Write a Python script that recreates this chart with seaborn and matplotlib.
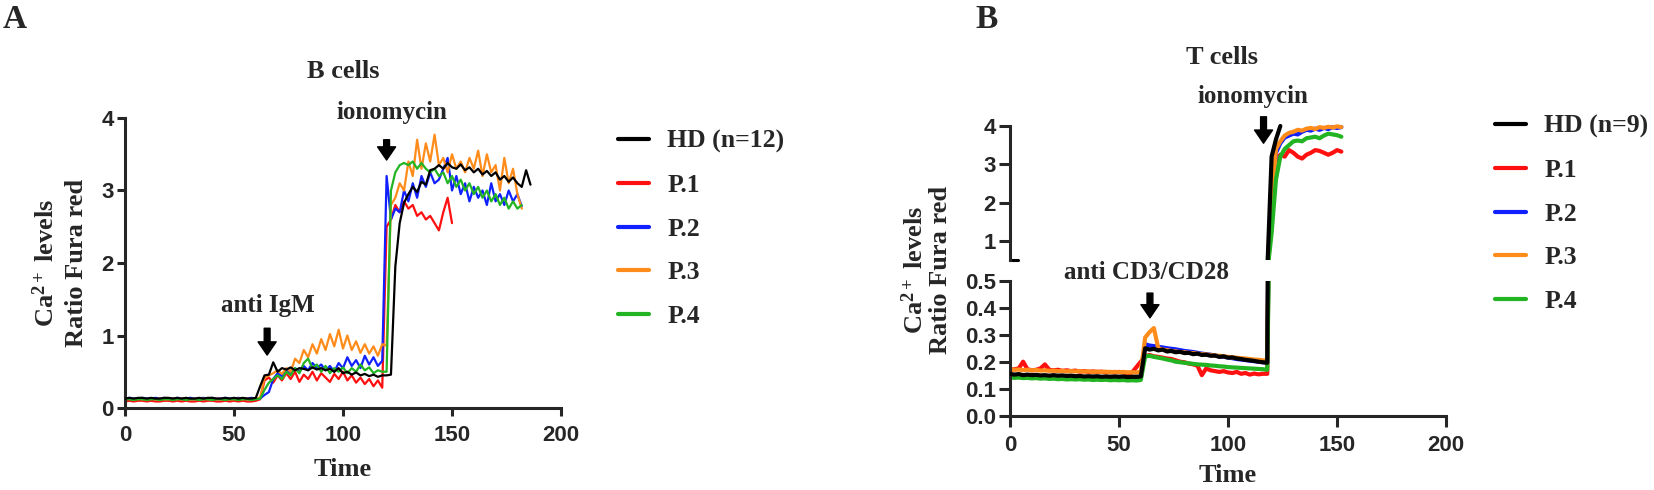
import numpy as np
import pandas as pd
import seaborn as sns
import matplotlib.pyplot as plt
from matplotlib.lines import Line2D
from matplotlib.transforms import Bbox, TransformedBbox

sns.set_style("ticks")
plt.rcParams["font.family"] = ["Liberation Serif", "DejaVu Serif"]
plt.rcParams["font.weight"] = "bold"
plt.rcParams["axes.labelweight"] = "bold"
plt.rcParams["mathtext.fontset"] = "custom"
plt.rcParams["mathtext.rm"] = "Liberation Serif:bold"
plt.rcParams["mathtext.it"] = "Liberation Serif:bold"
plt.rcParams["mathtext.bf"] = "Liberation Serif:bold"

STEP = 2  # seconds between readings

names = ["HD", "P.1", "P.2", "P.3", "P.4"]
colors = ["black", "#ff1010", "#1020ff", "#ff8c1a", "#22b422"]

# ---- B cells (panel A) ----
b_hd = [0.13, 0.14, 0.13, 0.14, 0.14, 0.13, 0.14, 0.13, 0.13, 0.14, 0.14, 0.13, 0.14, 0.13, 0.14, 0.13,
        0.13, 0.14, 0.13, 0.14, 0.14, 0.13, 0.13, 0.14, 0.13, 0.14, 0.13, 0.14, 0.13, 0.13, 0.14,
        0.30, 0.45, 0.46, 0.63, 0.50, 0.55, 0.53, 0.56, 0.52, 0.55, 0.54, 0.52, 0.56, 0.53, 0.55, 0.52,
        0.54, 0.50, 0.55, 0.48, 0.50, 0.46, 0.49, 0.45, 0.47, 0.44, 0.46, 0.43, 0.45, 0.45, 0.46,
        1.95, 2.55, 2.83, 2.95, 3.05, 2.98, 3.12, 3.08, 3.28, 3.30, 3.35, 3.30, 3.38, 3.32, 3.30, 3.36,
        3.28, 3.32, 3.25, 3.30, 3.22, 3.27, 3.20, 3.25, 3.15, 3.20, 3.12, 3.18, 3.10, 3.05, 3.28, 3.08]
b_p1 = [0.09, 0.10, 0.09, 0.10, 0.10, 0.09, 0.10, 0.09, 0.09, 0.10, 0.10, 0.09, 0.10, 0.09, 0.10, 0.09,
        0.09, 0.10, 0.09, 0.10, 0.10, 0.09, 0.09, 0.10, 0.09, 0.10, 0.09, 0.10, 0.09, 0.09, 0.10,
        0.12, 0.38, 0.42, 0.35, 0.45, 0.38, 0.48, 0.40, 0.50, 0.36, 0.46, 0.40, 0.50, 0.38, 0.48, 0.42,
        0.36, 0.47, 0.40, 0.50, 0.38, 0.45, 0.35, 0.42, 0.33, 0.40, 0.30, 0.38, 0.28,
        2.50, 2.60, 2.80, 2.70, 2.85, 2.75, 2.80, 2.65, 2.70, 2.60, 2.65, 2.55, 2.45, 2.70, 2.90, 2.55]
b_p2 = [0.13, 0.14, 0.13, 0.13, 0.14, 0.13, 0.13, 0.14, 0.13, 0.14, 0.13, 0.13, 0.14, 0.13, 0.13, 0.14,
        0.13, 0.13, 0.14, 0.13, 0.14, 0.13, 0.13, 0.14, 0.13, 0.13, 0.14, 0.13, 0.13, 0.14, 0.13,
        0.13, 0.18, 0.22, 0.40, 0.48, 0.44, 0.52, 0.47, 0.55, 0.50, 0.58, 0.52, 0.62, 0.55, 0.60, 0.52,
        0.58, 0.50, 0.62, 0.55, 0.70, 0.58, 0.66, 0.55, 0.72, 0.60, 0.70, 0.58, 0.65,
        3.20, 2.60, 2.75, 2.70, 3.00, 2.85, 3.10, 2.90, 3.20, 3.05, 3.25, 3.10, 3.15, 3.30, 3.45, 3.00,
        3.20, 2.95, 3.10, 2.85, 3.05, 2.90, 3.00, 2.80, 3.10, 2.85, 2.95, 2.80, 3.00, 2.85, 2.95, 2.78]
b_p3 = [0.12, 0.13, 0.12, 0.13, 0.12, 0.12, 0.13, 0.12, 0.13, 0.12, 0.12, 0.13, 0.12, 0.13, 0.12, 0.12,
        0.13, 0.12, 0.13, 0.12, 0.12, 0.13, 0.12, 0.13, 0.12, 0.12, 0.13, 0.12, 0.13, 0.12, 0.13,
        0.14, 0.42, 0.45, 0.48, 0.52, 0.47, 0.55, 0.50, 0.68, 0.62, 0.80, 0.70, 0.88, 0.75, 0.95, 0.80,
        1.02, 0.85, 1.08, 0.82, 1.00, 0.80, 0.92, 0.76, 0.88, 0.75, 0.85, 0.72, 0.88, 0.86,
        2.80, 2.90, 3.10, 3.00, 3.40, 3.20, 3.70, 3.30, 3.65, 3.40, 3.77, 3.35, 3.45, 3.25, 3.50, 3.30,
        3.40, 3.25, 3.45, 3.30, 3.55, 3.20, 3.50, 3.25, 3.35, 3.00, 3.45, 3.10, 3.30, 2.95, 2.75]
b_p4 = [0.12, 0.12, 0.11, 0.12, 0.12, 0.11, 0.12, 0.12, 0.11, 0.12, 0.12, 0.11, 0.12, 0.12, 0.11, 0.12,
        0.12, 0.11, 0.12, 0.12, 0.11, 0.12, 0.12, 0.11, 0.12, 0.12, 0.11, 0.12, 0.12, 0.11, 0.12,
        0.13, 0.25, 0.35, 0.40, 0.45, 0.40, 0.50, 0.45, 0.55, 0.48, 0.62, 0.68, 0.55, 0.60, 0.50, 0.58,
        0.48, 0.55, 0.50, 0.56, 0.48, 0.55, 0.50, 0.60, 0.52, 0.56, 0.48, 0.52, 0.50, 0.50,
        3.00, 3.25, 3.35, 3.38, 3.35, 3.40, 3.30, 3.38, 3.30, 3.25, 3.30, 3.20, 3.25, 3.10, 3.20, 3.05,
        3.15, 3.00, 3.10, 2.95, 3.05, 2.90, 3.00, 2.85, 2.95, 2.80, 2.90, 2.75, 2.85, 2.75, 2.80]

# ---- T cells (panel B) ----
t_hd = [0.155, 0.152, 0.154, 0.150, 0.152, 0.150, 0.151, 0.149, 0.150, 0.148, 0.150, 0.148, 0.149, 0.147,
        0.148, 0.146, 0.147, 0.145, 0.146, 0.145, 0.146, 0.144, 0.145, 0.144, 0.145, 0.144, 0.145, 0.143,
        0.144, 0.144, 0.145,
        0.250, 0.245, 0.248, 0.242, 0.245, 0.238, 0.240, 0.235, 0.237, 0.232, 0.233, 0.228, 0.230, 0.225,
        0.226, 0.222, 0.223, 0.218, 0.220, 0.215, 0.216, 0.212, 0.210, 0.207, 0.205, 0.203, 0.200, 0.198,
        0.196,
        3.20, 3.65, 4.00]
t_p1 = [0.170, 0.172, 0.175, 0.200, 0.172, 0.168, 0.170, 0.175, 0.190, 0.170, 0.168, 0.170, 0.166, 0.168,
        0.165, 0.167, 0.163, 0.165, 0.162, 0.164, 0.162, 0.163, 0.160, 0.162, 0.160, 0.162, 0.160, 0.158,
        0.160, 0.180, 0.200,
        0.220, 0.225, 0.220, 0.218, 0.215, 0.212, 0.210, 0.205, 0.200, 0.198, 0.193, 0.190, 0.185, 0.150,
        0.175, 0.168, 0.165, 0.162, 0.165, 0.160, 0.158, 0.162, 0.155, 0.158, 0.152, 0.156, 0.153, 0.155,
        0.155,
        1.50, 3.10, 3.25, 3.20, 3.37, 3.30, 3.20, 3.15, 3.25, 3.30, 3.37, 3.35, 3.30, 3.25, 3.30, 3.37, 3.33]
t_p2 = [0.148, 0.146, 0.147, 0.145, 0.146, 0.144, 0.145, 0.143, 0.144, 0.142, 0.143, 0.141, 0.142, 0.140,
        0.141, 0.140, 0.141, 0.139, 0.140, 0.139, 0.140, 0.138, 0.139, 0.138, 0.139, 0.138, 0.139, 0.137,
        0.138, 0.138, 0.139,
        0.265, 0.260, 0.258, 0.255, 0.253, 0.250, 0.248, 0.246, 0.243, 0.240, 0.238, 0.236, 0.233, 0.230,
        0.228, 0.226, 0.223, 0.220, 0.218, 0.216, 0.213, 0.210, 0.208, 0.206, 0.204, 0.202, 0.200, 0.198,
        0.197,
        1.60, 3.30, 3.55, 3.70, 3.75, 3.80, 3.78, 3.85, 3.90, 3.88, 3.93, 3.90, 3.95, 3.92, 3.97, 3.95, 3.97]
t_p3 = [0.172, 0.170, 0.171, 0.169, 0.170, 0.168, 0.169, 0.167, 0.168, 0.166, 0.167, 0.165, 0.166, 0.164,
        0.165, 0.164, 0.165, 0.163, 0.164, 0.162, 0.163, 0.162, 0.163, 0.161, 0.162, 0.161, 0.162, 0.160,
        0.161, 0.160, 0.162,
        0.290, 0.310, 0.325, 0.250, 0.245, 0.243, 0.240, 0.238, 0.236, 0.235, 0.233, 0.232, 0.230, 0.228,
        0.227, 0.225, 0.223, 0.222, 0.220, 0.218, 0.216, 0.215, 0.213, 0.212, 0.210, 0.208, 0.207, 0.205,
        0.204,
        1.80, 3.40, 3.60, 3.75, 3.82, 3.85, 3.90, 3.88, 3.93, 3.95, 3.92, 3.97, 3.95, 3.98, 3.96, 3.99, 3.97]
t_p4 = [0.142, 0.140, 0.141, 0.139, 0.140, 0.138, 0.139, 0.137, 0.138, 0.136, 0.137, 0.135, 0.136, 0.134,
        0.135, 0.134, 0.135, 0.133, 0.134, 0.132, 0.133, 0.132, 0.133, 0.131, 0.132, 0.131, 0.132, 0.130,
        0.131, 0.130, 0.132,
        0.220, 0.222, 0.218, 0.215, 0.212, 0.208, 0.205, 0.200, 0.198, 0.196, 0.194, 0.192, 0.190, 0.189,
        0.188, 0.186, 0.185, 0.183, 0.182, 0.180, 0.179, 0.178, 0.177, 0.176, 0.175, 0.174, 0.173, 0.172,
        0.170,
        1.20, 2.60, 3.20, 3.40, 3.50, 3.60, 3.62, 3.60, 3.68, 3.70, 3.72, 3.68, 3.75, 3.80, 3.78, 3.76, 3.72]


def long_df(series):
    parts = []
    for name, vals in zip(names, series):
        parts.append(pd.DataFrame({"Time": np.arange(len(vals)) * STEP,
                                   "Ratio": vals, "Series": name}))
    return pd.concat(parts, ignore_index=True)


df_b = long_df([b_hd, b_p1, b_p2, b_p3, b_p4])
df_t = long_df([t_hd, t_p1, t_p2, t_p3, t_p4])

W, H = 1654, 490
fig = plt.figure(figsize=(W / 100, H / 100), dpi=100)


def rect(left, top, right, bottom):
    return [left / W, 1 - bottom / H, (right - left) / W, (bottom - top) / H]


def px(x, y):
    return x / W, 1 - y / H


def draw(ax, df, lw):
    sns.lineplot(data=df, x="Time", y="Ratio", hue="Series", hue_order=names,
                 palette=colors, estimator=None, sort=False, lw=lw,
                 legend=False, ax=ax)
    ax.lines[0].set_zorder(3)  # HD drawn on top
    ax.set_xlabel("")
    ax.set_ylabel("")


def style(ax, tick_len):
    for s in ["top", "right"]:
        ax.spines[s].set_visible(False)
    for s in ["left", "bottom"]:
        ax.spines[s].set_linewidth(2.2)
    ax.tick_params(width=2.2, length=tick_len, labelsize=16, pad=2,
                   labelfontfamily="Liberation Sans")


def arrow(ax, x, y_tail, y_tip):
    ax.annotate("", xy=(x, y_tip), xytext=(x, y_tail), annotation_clip=False,
                arrowprops=dict(arrowstyle="simple,head_length=0.95,head_width=1.3,tail_width=0.42",
                                color="black", shrinkA=0, shrinkB=0))


# ---------- panel A: B cells ----------
axA = fig.add_axes(rect(125, 118, 561, 408))
draw(axA, df_b, 1.6)
axA.set_xlim(0, 200)
axA.set_ylim(0, 4)
axA.set_xticks([0, 50, 100, 150, 200])
axA.set_yticks([0, 1, 2, 3, 4])
style(axA, 6)
axA.tick_params(axis="x", pad=6)
axA.set_xlabel("Time", fontsize=19, labelpad=9)
fig.text(*px(343, 72), "B cells", fontsize=19, ha="center", va="center")
axA.text(65.6, 1.42, "anti IgM", fontsize=18, ha="center", va="center")
arrow(axA, 65.2, 1.10, 0.73)
axA.text(122.5, 4.07, "ionomycin", fontsize=18, ha="center", va="center", clip_on=False)
arrow(axA, 120.0, 3.70, 3.42)
fig.text(*px(60, 263), "Ca$^{2+}$ levels\nRatio Fura red", fontsize=19, rotation=90,
         ha="center", va="center", multialignment="center", linespacing=1.35)
fig.text(*px(3, 19), "A", fontsize=24, ha="left", va="center")

# ---------- panel B: T cells (broken y axis) ----------
axB = fig.add_axes(rect(1010, 281, 1446, 415.5))
axT = fig.add_axes(rect(1010, 126, 1446, 260))
draw(axB, df_t, 3)
draw(axT, df_t, 3)
for ax in (axB, axT):
    ax.set_xlim(0, 200)
axB.set_ylim(0, 0.5)
axB.set_yticks([0.0, 0.1, 0.2, 0.3, 0.4, 0.5])
axB.set_yticklabels([f"{v:.1f}" for v in [0.0, 0.1, 0.2, 0.3, 0.4, 0.5]])
axB.set_xticks([0, 50, 100, 150, 200])
axT.set_ylim(0.5, 4)
axT.set_yticks([1, 2, 3, 4])
style(axB, 8)
style(axT, 8)
axB.tick_params(axis="x", pad=6)
axT.spines["bottom"].set_visible(False)
axT.tick_params(axis="x", bottom=False, labelbottom=False)
# let the top traces reach the 4.0 line without being cut in half
clip = TransformedBbox(Bbox([[0, 0], [1, 1.04]]), axT.transAxes)
for ln in axT.lines:
    ln.set_clip_box(clip)
# small end cap on the broken axis
axT.plot([0, 0.018], [0, 0], color="black", lw=2.2, transform=axT.transAxes, clip_on=False)
axB.set_xlabel("Time", fontsize=19, labelpad=6)
fig.text(*px(1222, 58), "T cells", fontsize=19, ha="center", va="center")
axB.text(62.4, 0.533, "anti CD3/CD28", fontsize=18, ha="center", va="center", clip_on=False)
arrow(axB, 64.2, 0.455, 0.363)
axT.text(111.6, 4.77, "ionomycin", fontsize=18, ha="center", va="center", clip_on=False)
arrow(axT, 116.3, 4.24, 3.55)
fig.text(*px(927, 270), "Ca$^{2+}$ levels\nRatio Fura red", fontsize=19, rotation=90,
         ha="center", va="center", multialignment="center", linespacing=1.05)
fig.text(*px(975, 19), "B", fontsize=24, ha="left", va="center")

# ---------- legends ----------
handles = [Line2D([], [], color=c, lw=3) for c in colors]
leg_kw = dict(loc="upper left", frameon=False, prop={"size": 18.5, "weight": "bold"},
              handlelength=1.2, handletextpad=0.72, labelspacing=0.8,
              borderpad=0, borderaxespad=0)
fig.legend(handles, ["HD (n=12)", "P.1", "P.2", "P.3", "P.4"],
           bbox_to_anchor=px(618, 130), **leg_kw)
fig.legend(handles, ["HD (n=9)", "P.1", "P.2", "P.3", "P.4"],
           bbox_to_anchor=px(1495, 115), **leg_kw)

fig.savefig("out.png", dpi=100)
plt.close(fig)
